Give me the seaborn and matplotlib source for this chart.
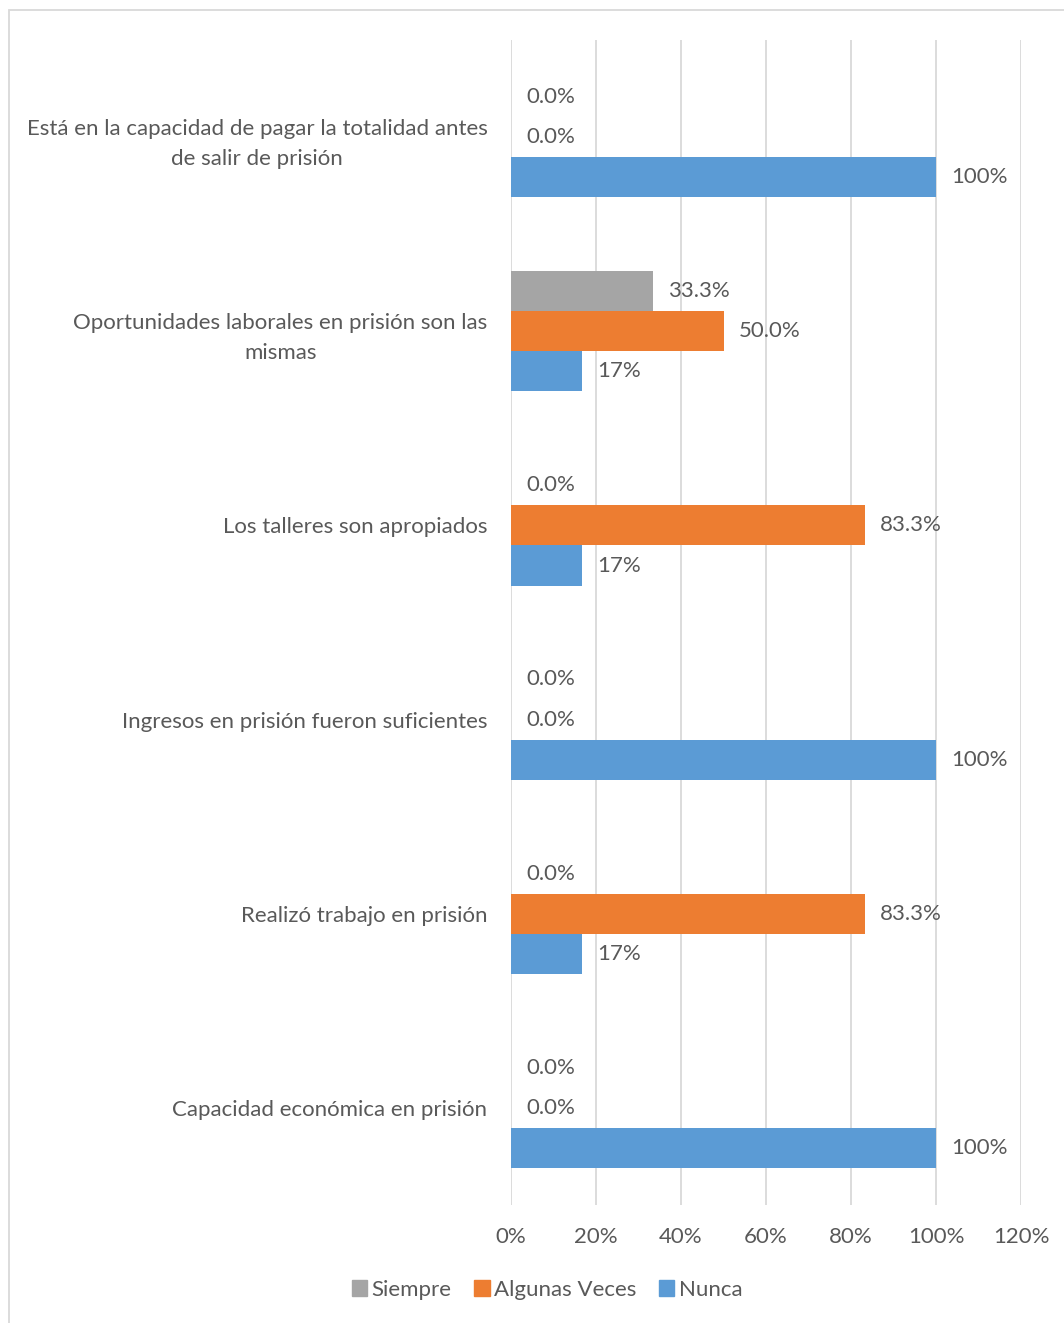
import matplotlib.pyplot as plt
import matplotlib.patches as mpatches
import seaborn as sns
import pandas as pd

# ========================
# Data
# ========================
categories = [
    "Está en la capacidad de pagar la totalidad antes\nde salir de prisión",
    "Oportunidades laborales en prisión son las\nmismas",
    "Los talleres son apropiados",
    "Ingresos en prisión fueron suficientes",
    "Realizó trabajo en prisión",
    "Capacidad económica en prisión",
]
series = ["Siempre", "Algunas Veces", "Nunca"]
siempre = [0.0, 0.333, 0.0, 0.0, 0.0, 0.0]
algunas_veces = [0.0, 0.50, 0.833, 0.0, 0.833, 0.0]
nunca = [1.0, 0.167, 0.167, 1.0, 0.167, 1.0]
x_ticks = [0, 0.2, 0.4, 0.6, 0.8, 1.0, 1.2]

colors = {"Siempre": "#A5A5A5", "Algunas Veces": "#ED7D31", "Nunca": "#5B9BD5"}
label_fmt = {"Siempre": "{:.1%}", "Algunas Veces": "{:.1%}", "Nunca": "{:.0%}"}

rows = []
for s, vals in zip(series, [siempre, algunas_veces, nunca]):
    for c, v in zip(categories, vals):
        rows.append({"categoria": c, "serie": s, "valor": v})
df = pd.DataFrame(rows)

# ========================
# Plot
# ========================
sns.set_style("white")
plt.rcParams["font.family"] = ["Lato", "DejaVu Sans"]
text_color = "#595959"
fs = 16

fig = plt.figure(figsize=(10.64, 13.23), dpi=100)
ax = fig.add_axes([0.4803, 0.0892, 0.4793, 0.8806])

sns.barplot(data=df, x="valor", y="categoria", hue="serie",
            order=categories, hue_order=series, palette=colors,
            orient="h", width=0.62, ax=ax, legend=False, saturation=1,
            linewidth=0)

ax.set_xlim(0, 1.2)
ax.set_xticks(x_ticks)
ax.set_xticklabels([f"{int(round(t * 100))}%" for t in x_ticks])
ax.xaxis.grid(True, color="#D9D9D9", linewidth=1.3)
ax.set_axisbelow(True)
for sp in ax.spines.values():
    sp.set_visible(False)
ax.set_xlabel("")
ax.set_ylabel("")
ax.tick_params(axis="x", length=0, pad=16, labelsize=fs, labelcolor=text_color)
ax.tick_params(axis="y", length=0, pad=17, labelsize=fs, labelcolor=text_color)
for lbl in ax.get_yticklabels():
    lbl.set_multialignment("center")
    lbl.set_linespacing(1.6)

for cont, s in zip(ax.containers, series):
    ax.bar_label(cont, labels=[label_fmt[s].format(v) for v in cont.datavalues],
                 padding=11, fontsize=fs, color=text_color)

handles = [mpatches.Patch(color=colors[s], label=s) for s in series]
fig.legend(handles=handles, loc="center", bbox_to_anchor=(547 / 1064, 1 - 1290 / 1323),
           ncol=3, frameon=False, fontsize=fs, labelcolor=text_color,
           handlelength=0.7, handleheight=0.7, handletextpad=0.2, columnspacing=1.0)

# outer border
fig.patches.append(mpatches.Rectangle((9 / 1064, -0.01), 1.1, 1 - 10 / 1323 + 0.01,
                                      transform=fig.transFigure, fill=False,
                                      edgecolor="#D9D9D9", linewidth=1.3))

plt.savefig("out.png", dpi=100)
plt.close()
